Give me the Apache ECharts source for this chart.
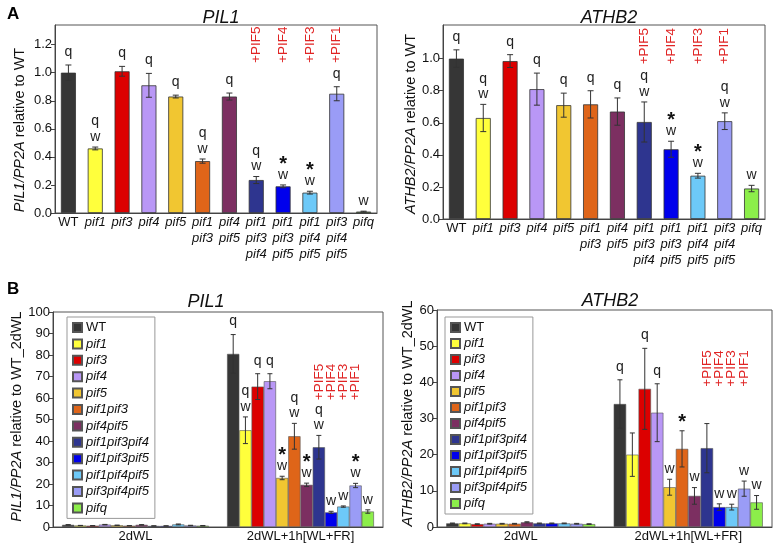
<!DOCTYPE html>
<html><head><meta charset="utf-8">
<script src="https://cdn.jsdelivr.net/npm/echarts@6.0.0/dist/echarts.min.js"></script>
<style>html,body{margin:0;padding:0;background:#fff}#c{width:774px;height:548px}</style>
</head><body><div id="c"></div>
<script>
// ---------- data ----------
const genotypes = ['WT','pif1','pif3','pif4','pif5','pif1pif3','pif4pif5','pif1pif3pif4','pif1pif3pif5','pif1pif4pif5','pif3pif4pif5','pifq'];
const catLabelsA = ['WT','pif1','pif3','pif4','pif5','pif1\npif3','pif4\npif5','pif1\npif3\npif4','pif1\npif3\npif5','pif1\npif4\npif5','pif3\npif4\npif5','pifq'];

const pil1A        = [1.00, 0.46, 1.01, 0.91, 0.83, 0.37, 0.83, 0.235, 0.19, 0.145, 0.85, 0.01];
const pil1AErr     = [0.055, 0.01, 0.035, 0.085, 0.01, 0.015, 0.025, 0.025, 0.01, 0.01, 0.05, 0.003];
const pil1ALetters = ['q','q\nw','q','q','q','q\nw','q','q\nw','*\nw','*\nw','q','w'];

const athb2A        = [1.00, 0.63, 0.985, 0.81, 0.71, 0.715, 0.67, 0.605, 0.435, 0.27, 0.61, 0.19];
const athb2AErr     = [0.055, 0.085, 0.04, 0.10, 0.075, 0.085, 0.085, 0.125, 0.05, 0.015, 0.052, 0.02];
const athb2ALetters = ['q','q\nw','q','q','q','q','q','q\nw','*\nw','*\nw','q\nw','w'];

const condB = ['2dWL','2dWL+1h[WL+FR]'];
const pil1B_WL     = [1.0, 0.7, 0.6, 1.1, 0.8, 0.6, 1.0, 0.5, 0.5, 1.2, 0.7, 0.6];
const pil1B_WLErr  = [0.1, 0.05, 0.05, 0.1, 0.1, 0.05, 0.1, 0.05, 0.05, 0.2, 0.1, 0.1];
const pil1B_FR     = [80.5, 45, 65.3, 67.8, 22.8, 42.2, 19.6, 37.1, 6.8, 9.5, 19.3, 7.2];
const pil1B_FRErr  = [9, 6.2, 6, 3.5, 0.8, 6, 0.8, 5.5, 0.5, 0.3, 1.0, 0.8];
const pil1B_Letters = ['q','q\nw','q','q','*\nw','q\nw','*\nw','q\nw','w','w','*\nw','w'];

const athb2B_WL    = [1.0, 1.0, 0.8, 0.9, 0.9, 0.9, 1.3, 1.0, 1.0, 1.0, 0.9, 0.8];
const athb2B_WLErr = [0.1, 0.1, 0.1, 0.1, 0.1, 0.1, 0.15, 0.1, 0.1, 0.1, 0.1, 0.1];
const athb2B_FR    = [34.0, 20.0, 38.2, 31.6, 11.0, 21.6, 8.6, 21.8, 5.5, 5.5, 10.6, 6.8];
const athb2B_FRErr = [6.7, 6.0, 11.2, 8.0, 2.2, 5.0, 2.3, 6.8, 0.9, 0.8, 2.1, 1.9];
const athb2B_Letters = ['q','','q','q','w','*','w','','w','w','w','w'];

const redLabels = ['+PIF5','+PIF4','+PIF3','+PIF1'];
const redIdx    = [7, 8, 9, 10];

const ticksA1 = [0, 0.2, 0.4, 0.6, 0.8, 1.0, 1.2];
const ticksA2 = [0, 0.2, 0.4, 0.6, 0.8, 1.0];

// ---------- style ----------
const colors = ['#363636','#ffff3c','#dc0000','#b997f6','#f1c631','#df6519','#7c2f61','#2e358f','#0000ec','#6dc9f8','#9a9cf6','#8cee4a'];
const FONT = 'Liberation Sans, Arial, sans-serif';
const gapB = 0.11;
const axisCol = '#444';

function letterCenters(lines, errTop) {
  const out = [];
  let y = null;
  for (let k = lines.length - 1; k >= 0; k--) {
    const s = lines[k];
    if (y === null) y = errTop - (s === 'w' ? 9 : 12);
    else y -= 15.5;
    out[k] = y;
  }
  return out;
}
function textEl(s, x, y) {
  if (s === '*') {
    return {type:'text', x:x, y:y + 4, style:{text:'*', fill:'#111', fontSize:20, fontWeight:'bold', fontFamily:FONT, align:'center', verticalAlign:'middle'}};
  }
  return {type:'text', x:x, y:y - 1, style:{text:s, fill:'#222', fontSize:14, fontFamily:FONT, align:'center', verticalAlign:'middle'}};
}
function errRender(letters, nGroup, gap) {
  return function (params, api) {
    const cat = api.value(0), v = api.value(1), e = api.value(2), g = api.value(3);
    let x = api.coord([cat, v])[0];
    let cap = 3;
    if (nGroup) {
      const catW = api.size([1, 0])[0];
      const bw = catW * (1 - gap) / nGroup;
      x += (g - (nGroup - 1) / 2) * bw;
      cap = 2.5;
    }
    const yt = api.coord([cat, v + e])[1], yb = api.coord([cat, Math.max(0, v - e)])[1];
    const ls = {stroke:'#333', lineWidth:1};
    const ch = [
      {type:'line', shape:{x1:x, y1:yt, x2:x, y2:yb}, style:ls},
      {type:'line', shape:{x1:x-cap, y1:yt, x2:x+cap, y2:yt}, style:ls},
      {type:'line', shape:{x1:x-cap, y1:yb, x2:x+cap, y2:yb}, style:ls}
    ];
    const lt = letters ? letters(params.dataIndex, cat, g) : '';
    if (lt) {
      const lines = lt.split('\n');
      const ys = letterCenters(lines, yt);
      lines.forEach((s, k) => ch.push(textEl(s, x, ys[k])));
    }
    return {type:'group', children: ch};
  };
}
function redRender(nGroup, gap) {
  return function (params, api) {
    const cat = api.value(0), y = api.value(1), g = api.value(2);
    const p = api.coord([cat, y]);
    let x = p[0];
    if (nGroup) {
      const catW = api.size([1, 0])[0];
      const bw = catW * (1 - gap) / nGroup;
      x += (g - (nGroup - 1) / 2) * bw;
    }
    return {type:'text', x:x, y:p[1], rotation:Math.PI/2,
      style:{text:redLabels[params.dataIndex], fill:'#e02424', fontSize:13.5, fontFamily:FONT, align:'left', verticalAlign:'middle'}};
  };
}

const italicCat = v => v === 'WT' ? '{n|WT}' : v.split('\n').map(s => '{i|' + s + '}').join('\n');
const xLabelA = {interval:0, margin:1, formatter: italicCat, color:'#111',
  rich:{i:{fontStyle:'italic', fontSize:13, lineHeight:16, fontFamily:FONT, color:'#111'}, n:{fontSize:13, lineHeight:16, fontFamily:FONT, color:'#111'}}};

function yAxisCommon(extra, pad) {
  return Object.assign({
    type:'value', min:0,
    axisLine:{show:true, lineStyle:{color:axisCol}},
    axisTick:{show:true, length:4, lineStyle:{color:axisCol}},
    axisLabel:{fontSize:13, color:'#111', margin:3},
    splitLine:{show:false},
    nameLocation:'middle',
    nameTextStyle:{fontSize:14.5, color:'#111', padding:pad || 0, rich:{i:{fontStyle:'italic', fontSize:14.5, color:'#111', fontFamily:FONT}}}
  }, extra);
}

const gridStyle = {show:true, borderColor:'#555', borderWidth:1, backgroundColor:'transparent'};

const series = [];
series.push({type:'bar', xAxisIndex:0, yAxisIndex:0, barWidth:'56%',
  data: pil1A.map((v,i) => ({value:v, itemStyle:{color:colors[i]}})),
  itemStyle:{borderColor:'#333', borderWidth:0.8}, silent:true});
series.push({type:'custom', xAxisIndex:0, yAxisIndex:0, z:5, silent:true,
  data: pil1A.map((v,i) => [i, v, pil1AErr[i], 0]),
  renderItem: errRender(i => pil1ALetters[i])});
series.push({type:'custom', xAxisIndex:0, yAxisIndex:0, z:5, silent:true,
  data: redIdx.map(g => [g, 1.07, 0]), renderItem: redRender()});

series.push({type:'bar', xAxisIndex:1, yAxisIndex:1, barWidth:'56%',
  data: athb2A.map((v,i) => ({value:v, itemStyle:{color:colors[i]}})),
  itemStyle:{borderColor:'#333', borderWidth:0.8}, silent:true});
series.push({type:'custom', xAxisIndex:1, yAxisIndex:1, z:5, silent:true,
  data: athb2A.map((v,i) => [i, v, athb2AErr[i], 0]),
  renderItem: errRender(i => athb2ALetters[i])});
series.push({type:'custom', xAxisIndex:1, yAxisIndex:1, z:5, silent:true,
  data: redIdx.map(g => [g, 0.965, 0]), renderItem: redRender()});

function addB(ax, wl, wlErr, fr, frErr, letters, redY) {
  genotypes.forEach((name, g) => {
    series.push({type:'bar', name:name, xAxisIndex:ax, yAxisIndex:ax, data:[wl[g], fr[g]],
      barGap:'0%', barCategoryGap:(gapB*100)+'%',
      itemStyle:{color:colors[g], borderColor:'#555', borderWidth:0.6}, silent:true});
  });
  const d = [];
  genotypes.forEach((name, g) => { d.push([0, wl[g], wlErr[g], g]); d.push([1, fr[g], frErr[g], g]); });
  series.push({type:'custom', xAxisIndex:ax, yAxisIndex:ax, z:5, silent:true, data:d,
    renderItem: errRender((di, cat, g) => cat === 1 ? letters[g] : '', genotypes.length, gapB)});
  series.push({type:'custom', xAxisIndex:ax, yAxisIndex:ax, z:5, silent:true,
    data: redIdx.map(g => [1, redY, g]), renderItem: redRender(genotypes.length, gapB)});
}
addB(2, pil1B_WL, pil1B_WLErr, pil1B_FR, pil1B_FRErr, pil1B_Letters, 59);
addB(3, athb2B_WL, athb2B_WLErr, athb2B_FR, athb2B_FRErr, athb2B_Letters, 38.8);

const legendCommon = {orient:'vertical', icon:'rect', itemWidth:9, itemHeight:9, itemGap:3.4,
  padding:[4,6,4,5], borderColor:'#999', borderWidth:1, backgroundColor:'#fff', selectedMode:false,
  data: genotypes,
  formatter: n => n === 'WT' ? '{n|WT}' : '{i|' + n + '}',
  textStyle:{fontSize:13, color:'#111', padding:[0,0,0,-1],
    rich:{i:{fontStyle:'italic', fontSize:13, lineHeight:14, fontFamily:FONT, color:'#111'}, n:{fontSize:13, lineHeight:14, fontFamily:FONT, color:'#111'}}}};

const titleStyle = {fontSize:18, fontStyle:'italic', fontWeight:'normal', color:'#111', fontFamily:FONT};
const option = {
  animation:false,
  textStyle:{fontFamily:FONT},
  title:[
    {text:'A', left:2, top:1, textStyle:{fontSize:17, fontWeight:'bold', color:'#000', fontFamily:FONT}},
    {text:'B', left:2, top:276, textStyle:{fontSize:17, fontWeight:'bold', color:'#000', fontFamily:FONT}},
    {text:'PIL1', left:216, top:4, textAlign:'center', textStyle:titleStyle},
    {text:'ATHB2', left:604, top:4, textAlign:'center', textStyle:titleStyle},
    {text:'PIL1', left:201, top:288, textAlign:'center', textStyle:titleStyle},
    {text:'ATHB2', left:605, top:287, textAlign:'center', textStyle:titleStyle}
  ],
  legend:[
    Object.assign({}, legendCommon, {left:67, top:317}),
    Object.assign({}, legendCommon, {left:445, top:317, itemGap:3.0})
  ],
  grid:[
    Object.assign({left:55, top:25, width:322, height:188}, gridStyle),
    Object.assign({left:443, top:25, width:322, height:194}, gridStyle),
    Object.assign({left:53, top:312, width:330, height:215}, gridStyle),
    Object.assign({left:437, top:310, width:335, height:217}, gridStyle)
  ],
  xAxis:[
    {gridIndex:0, type:'category', data:catLabelsA, axisLine:{lineStyle:{color:axisCol}}, axisTick:{length:4, lineStyle:{color:axisCol}}, axisLabel:xLabelA},
    {gridIndex:1, type:'category', data:catLabelsA, axisLine:{lineStyle:{color:axisCol}}, axisTick:{length:4, lineStyle:{color:axisCol}}, axisLabel:xLabelA},
    {gridIndex:2, type:'category', data:condB, axisLine:{lineStyle:{color:axisCol}}, axisTick:{length:4, lineStyle:{color:axisCol}}, axisLabel:{fontSize:13, color:'#111', margin:3}},
    {gridIndex:3, type:'category', data:condB, axisLine:{lineStyle:{color:axisCol}}, axisTick:{length:4, lineStyle:{color:axisCol}}, axisLabel:{fontSize:13, color:'#111', margin:3}}
  ],
  yAxis:[
    yAxisCommon({gridIndex:0, max:1.34, name:'{i|PIL1/PP2A} relative to WT', nameGap:28,
      axisLabel:{fontSize:13, color:'#111', margin:3, formatter:v => v.toFixed(1), customValues:ticksA1},
      axisTick:{show:true, length:4, lineStyle:{color:axisCol}, customValues:ticksA1}}, [0,22,0,0]),
    yAxisCommon({gridIndex:1, max:1.21, name:'{i|ATHB2/PP2A} relative to WT', nameGap:24,
      axisLabel:{fontSize:13, color:'#111', margin:3, formatter:v => v.toFixed(1), customValues:ticksA2},
      axisTick:{show:true, length:4, lineStyle:{color:axisCol}, customValues:ticksA2}}, [0,4,0,0]),
    yAxisCommon({gridIndex:2, max:100, interval:10, name:'{i|PIL1/PP2A} relative to WT_2dWL', nameGap:22}, [0,0,0,6]),
    yAxisCommon({gridIndex:3, max:60, interval:10, name:'{i|ATHB2/PP2A} relative to WT_2dWL', nameGap:17}, [0,0,0,10])
  ],
  series: series
};
const chart = echarts.init(document.getElementById('c'), null, {renderer:'canvas'});
chart.setOption(option);
</script>
</body></html>
